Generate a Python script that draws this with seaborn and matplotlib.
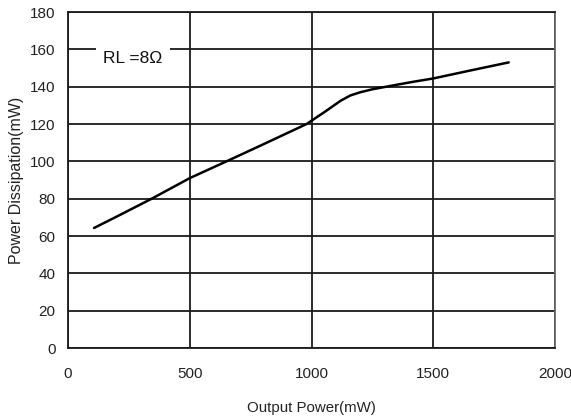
import matplotlib
matplotlib.use("Agg")
import matplotlib.pyplot as plt
import seaborn as sns
import pandas as pd

# Power dissipation vs output power, RL = 8 ohm
output_power_mw = [107, 200, 344, 500, 651, 800, 980, 1060, 1120, 1160, 1200, 1250, 1320, 1417, 1500, 1650, 1810]
dissipation_mw = [64.3, 70.4, 80, 91, 100, 109, 120, 127, 132.5, 135.3, 137.0, 138.6, 140.3, 142.6, 144.4, 148.6, 153]

x_ticks = [0, 500, 1000, 1500, 2000]
y_ticks = [0, 20, 40, 60, 80, 100, 120, 140, 160, 180]

sns.set_theme(style="white")
plt.rcParams["font.family"] = ["Liberation Sans", "DejaVu Sans"]

df = pd.DataFrame({"Output Power(mW)": output_power_mw,
                   "Power Dissipation(mW)": dissipation_mw})

fig = plt.figure(figsize=(5.71, 4.18), dpi=100)
ax = fig.add_axes([68 / 571, 1 - 348 / 418, (555 - 68) / 571, (348 - 12) / 418])

sns.lineplot(data=df, x="Output Power(mW)", y="Power Dissipation(mW)",
             ax=ax, color="black", linewidth=1.8, zorder=3)

ax.set_xlim(0, 2000)
ax.set_ylim(0, 180)
ax.set_xticks(x_ticks)
ax.set_yticks(y_ticks)
ax.tick_params(axis="both", length=0, labelsize=11, colors="#222222")
ax.tick_params(axis="x", pad=14)
ax.tick_params(axis="y", pad=9)
ax.grid(True, color="#1a1a1a", linewidth=1.3)
ax.set_axisbelow(True)

for side, sp in ax.spines.items():
    sp.set_visible(True)
    sp.set_linewidth(1.3)
    sp.set_color("#1a1a1a" if side in ("left", "bottom", "top") else "#666666")

ax.set_xlabel("Output Power(mW)", fontsize=10.8, color="#222222")
ax.xaxis.set_label_coords(0.5, -(401 - 348) / 336)
ax.set_ylabel("Power Dissipation(mW)", fontsize=11.5, color="#222222")
ax.yaxis.set_label_coords(-(68 - 24) / 487, 0.5)

ax.text(267, 155, "RL =8Ω", fontsize=12.5, ha="center", va="center",
        color="#111111", zorder=4,
        bbox=dict(boxstyle="square,pad=0.45", facecolor="white", edgecolor="none"))

fig.savefig("out.png", dpi=100)
